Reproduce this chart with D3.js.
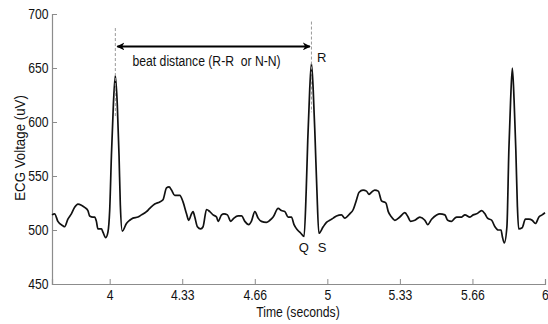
<!DOCTYPE html>
<html>
<head>
<meta charset="utf-8">
<script src="https://cdn.jsdelivr.net/npm/d3@7"></script>
<style>
  body { margin: 0; background: #fff; }
  text { font-family: "Liberation Sans", Arial, sans-serif; }
  /* the original figure's lettering is a bit narrow */
  text.sq { transform-box: fill-box; transform-origin: center; transform: scaleX(0.87); }
  text.sq2 { transform-box: fill-box; transform-origin: center; transform: scaleX(0.95); }
</style>
</head>
<body>
<div id="chart"></div>
<script>

// ecg samples (seconds, uV)
var times = [3.735, 3.747, 3.762, 3.785, 3.793, 3.808, 3.824, 3.839, 3.854, 3.870, 3.885, 3.900, 3.908, 3.923, 3.931, 3.939, 3.946, 3.962, 3.969, 3.982, 3.992,
  4.000, 4.008, 4.017, 4.026, 4.035, 4.043, 4.049, 4.058,
  4.077, 4.092, 4.107, 4.130, 4.146, 4.169, 4.184, 4.207, 4.230, 4.245, 4.261, 4.273, 4.284, 4.299, 4.322, 4.337, 4.353, 4.363, 4.376, 4.383, 4.391, 4.403, 4.418, 4.429, 4.445, 4.460, 4.475, 4.491, 4.498, 4.514, 4.525, 4.541, 4.556, 4.571, 4.590, 4.606, 4.621, 4.639, 4.651, 4.667, 4.682, 4.697, 4.720, 4.736, 4.751, 4.774, 4.789, 4.805, 4.820, 4.835, 4.847, 4.863, 4.878, 4.893,
  4.903, 4.910, 4.919, 4.927, 4.935, 4.944, 4.952, 4.961,
  4.981, 4.996, 5.011, 5.027, 5.042, 5.065, 5.080, 5.103, 5.119, 5.131, 5.146, 5.164, 5.180, 5.191, 5.203, 5.218, 5.234, 5.249, 5.269, 5.280, 5.295, 5.310, 5.333, 5.356, 5.371, 5.382, 5.402, 5.425, 5.448, 5.461, 5.479, 5.502, 5.517, 5.540, 5.553, 5.571, 5.586, 5.594, 5.617, 5.632, 5.655, 5.670, 5.686, 5.709, 5.724, 5.736, 5.755, 5.770, 5.785, 5.798, 5.804, 5.813,
  5.825, 5.834, 5.842, 5.850, 5.858, 5.866, 5.873, 5.879,
  5.895, 5.910, 5.926, 5.941, 5.956, 5.972, 5.987, 6.000];

var voltages = [514, 515, 508, 504, 503, 510, 515, 521, 524, 523, 521, 518, 513, 512, 512, 508, 501, 501, 498, 493, 498,
  518, 569, 616, 643, 616, 569, 523, 499,
  506, 509, 511, 512, 514, 517, 520, 524, 526, 528, 539, 540, 537, 532, 532, 526, 515, 509, 515, 517, 512, 503, 501, 503, 519, 517, 514, 512, 508, 514, 515, 514, 508, 511, 513, 513, 508, 505, 508, 517, 511, 508, 507, 509, 512, 520, 518, 517, 512, 512, 505, 500, 497, 494,
  537, 583, 630, 654, 630, 583, 537, 497,
  503, 507, 509, 511, 513, 514, 511, 515, 519, 526, 535, 537, 536, 533, 535, 537, 536, 527, 525, 517, 512, 509, 512, 516, 512, 508, 509, 512, 509, 505, 510, 514, 515, 514, 509, 508, 511, 512, 512, 514, 512, 514, 515, 518, 515, 511, 509, 503, 500, 500, 494, 488,
  503, 574, 620, 650, 620, 574, 523, 501,
  502, 510, 510, 509, 506, 512, 514, 516];

var xTicks = [4, 4 + 1 / 3, 4 + 2 / 3, 5, 5 + 1 / 3, 5 + 2 / 3, 6];
var xTickLabels = ["4", "4.33", "4.66", "5", "5.33", "5.66", "6"];
var yTicks = [450, 500, 550, 600, 650, 700];

// R-R markers: time of the R peak, dashed line from / to (uV)
var rTimes = [4.026, 4.927];
var rTop = [687, 693];
var rBottom = [605, 609];

var arrowFrom = 4.035, arrowTo = 4.920, arrowLevel = 670;
var arrowText = "beat distance (R-R  or N-N)";
var waveLabels = ["R", "Q", "S"];
var waveLabelTimes = [4.952, 4.869, 4.956];
var waveLabelVolts = [656, 480, 480];

var margin = { top: 14, left: 52, right: 3, bottom: 40 },
    width = 548 - margin.left - margin.right,
    height = 324 - margin.top - margin.bottom;

var fontSize = "14px";

var svg = d3
  .select("#chart")
  .append("svg")
  .attr("width", width + margin.left + margin.right)
  .attr("height", height + margin.top + margin.bottom)
  .append("g")
  .attr("transform", "translate(" + margin.left + "," + margin.top + ")");

var x = d3.scaleLinear().domain([3.735, 6]).range([0, width]);
var y = d3.scaleLinear().domain([450, 700]).range([height, 0]);

// axes (ticks point inward, like matlab)
var xAxis = d3.axisBottom(x)
  .tickValues(xTicks)
  .tickSize(-5)
  .tickPadding(6)
  .tickFormat(function (d, i) { return xTickLabels[i]; });

var yAxis = d3.axisLeft(y)
  .tickValues(yTicks)
  .tickSize(-5)
  .tickPadding(2);

var gx = svg.append("g")
  .attr("transform", "translate(0," + height + ")")
  .call(xAxis);
var gy = svg.append("g").call(yAxis);

[gx, gy].forEach(function (g) {
  g.select(".domain").attr("stroke", "#8c8c8c").attr("stroke-width", 1.2);
  g.selectAll(".tick line").attr("stroke", "#8c8c8c");
  g.selectAll(".tick text")
    .attr("class", "sq")
    .attr("fill", "#111")
    .style("font-size", fontSize)
    .style("font-family", "'Liberation Sans', Arial, sans-serif");
});

// ecg trace
var pts = times.map(function (t, i) { return [t, voltages[i]]; });
var line = d3.line()
  .x(function (d) { return x(d[0]); })
  .y(function (d) { return y(d[1]); })
  .curve(d3.curveMonotoneX);

svg.append("path")
  .datum(pts)
  .attr("fill", "none")
  .attr("stroke", "#111")
  .attr("stroke-width", 1.7)
  .attr("stroke-linejoin", "round")
  .attr("d", line);

// dashed markers through the R peaks
svg.selectAll(".rmark")
  .data(rTimes)
  .enter().append("line")
  .attr("class", "rmark")
  .attr("x1", function (d) { return x(d); })
  .attr("x2", function (d) { return x(d); })
  .attr("y1", function (d, i) { return y(rTop[i]); })
  .attr("y2", function (d, i) { return y(rBottom[i]); })
  .attr("stroke", "#999")
  .attr("stroke-width", 1)
  .attr("stroke-dasharray", "3,2");

// double headed arrow
var defs = svg.append("defs");
defs.append("marker")
  .attr("id", "head")
  .attr("viewBox", "0 0 10 10")
  .attr("refX", 9)
  .attr("refY", 5)
  .attr("markerWidth", 8)
  .attr("markerHeight", 8)
  .attr("markerUnits", "userSpaceOnUse")
  .attr("orient", "auto-start-reverse")
  .append("path")
  .attr("d", "M0,0 L10,5 L0,10 L3,5 Z")
  .attr("fill", "#000");

svg.append("line")
  .attr("x1", x(arrowFrom))
  .attr("x2", x(arrowTo))
  .attr("y1", y(arrowLevel))
  .attr("y2", y(arrowLevel))
  .attr("stroke", "#000")
  .attr("stroke-width", 2)
  .attr("marker-start", "url(#head)")
  .attr("marker-end", "url(#head)");

svg.append("text")
  .attr("class", "sq")
  .attr("x", x((arrowFrom + arrowTo) / 2) - 7)
  .attr("y", y(arrowLevel) + 20)
  .attr("text-anchor", "middle")
  .style("font-size", fontSize)
  .style("white-space", "pre")
  .attr("fill", "#111")
  .text(arrowText);

svg.selectAll(".wlab")
  .data(waveLabels)
  .enter().append("text")
  .attr("class", "wlab")
  .attr("x", function (d, i) { return x(waveLabelTimes[i]); })
  .attr("y", function (d, i) { return y(waveLabelVolts[i]); })
  .style("font-size", "13px")
  .attr("fill", "#111")
  .text(function (d) { return d; });

// axis titles
svg.append("g")
  .attr("transform", "translate(" + (20 - margin.left) + "," + (148 - margin.top) + ") rotate(-90)")
  .append("text")
  .attr("class", "sq2")
  .attr("text-anchor", "middle")
  .attr("dy", "0.35em")
  .style("font-size", fontSize)
  .attr("fill", "#111")
  .text("ECG Voltage (uV)");

svg.append("text")
  .attr("class", "sq")
  .attr("x", 298 - margin.left)
  .attr("y", height + 33)
  .attr("text-anchor", "middle")
  .style("font-size", fontSize)
  .attr("fill", "#111")
  .text("Time (seconds)");

</script>
</body>
</html>
